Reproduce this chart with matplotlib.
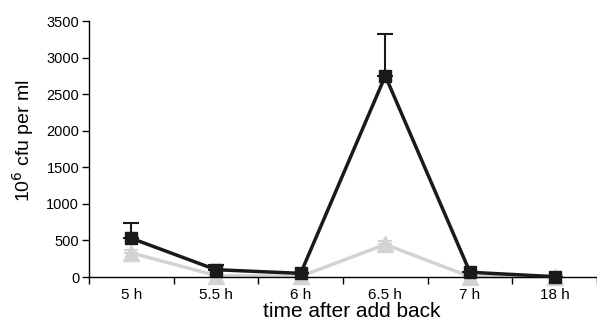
import matplotlib
matplotlib.use("Agg")
import matplotlib.pyplot as plt
import numpy as np

categories = ["5 h", "5.5 h", "6 h", "6.5 h", "7 h", "18 h"]
black_vals = [530, 100, 50, 2750, 65, 5]
black_err = [215, 60, 0, 570, 0, 0]
gray_vals = [330, 20, 10, 445, 5, 5]
gray_err = [45, 0, 0, 45, 0, 0]
yticks = [0, 500, 1000, 1500, 2000, 2500, 3000, 3500]

plt.rcParams['font.family'] = ['Liberation Sans', 'DejaVu Sans']
fig = plt.figure(figsize=(5.97, 3.24), dpi=100)
ax = fig.add_axes([0.149, 0.145, 0.851, 0.79])
x = np.arange(len(categories))

ax.errorbar(x, gray_vals, yerr=[np.zeros(len(x)), gray_err], color='#d3d3d3', lw=2.5,
            marker='^', ms=11, mec='#d3d3d3', mfc='#d3d3d3', capsize=5, capthick=1.5,
            elinewidth=1.5, clip_on=False, zorder=2)
ax.errorbar(x, black_vals, yerr=[np.zeros(len(x)), black_err], color='#1a1a1a', lw=2.5,
            marker='s', ms=8, mec='#1a1a1a', mfc='#1a1a1a', capsize=6, capthick=1.5,
            elinewidth=1.5, clip_on=False, zorder=3)

ax.set_xlim(-0.5, 5.5)
ax.set_ylim(0, 3500)
ax.set_yticks(yticks)
ax.set_xticks(x)
ax.set_xticklabels(categories, fontsize=11)
ax.set_xticks(np.arange(-0.5, 6, 1), minor=True)
ax.tick_params(axis='x', which='major', length=0, pad=8)
ax.tick_params(axis='x', which='minor', length=5, width=1, direction='out')
ax.tick_params(axis='y', length=5, width=1, labelsize=10.5, pad=2)
for s in ['top', 'right']:
    ax.spines[s].set_visible(False)
for s in ['left', 'bottom']:
    ax.spines[s].set_linewidth(1)
ax.set_ylabel("10$^6$ cfu per ml", fontsize=14)
ax.set_xlabel("time after add back", fontsize=15)
ax.yaxis.set_label_coords(-0.104, 0.535)
ax.xaxis.set_label_coords(0.518, -0.098)
fig.savefig("out.png", dpi=100)
